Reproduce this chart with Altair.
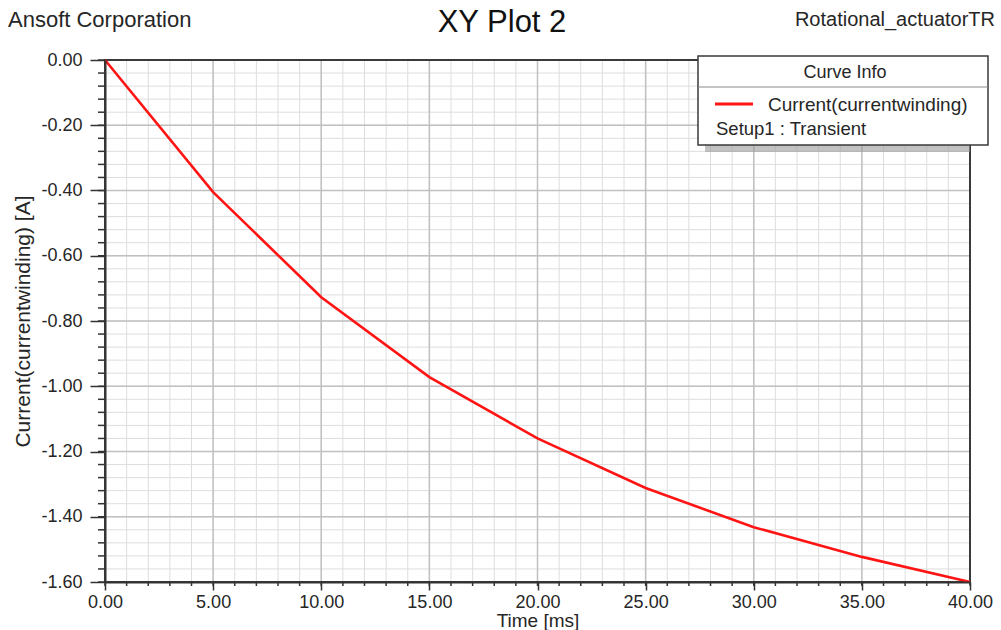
import altair as alt
import pandas as pd

# ---- data ----
time_ms = [0, 5, 10, 15, 20, 25, 30, 35, 40]
current_a = [0.0, -0.405, -0.727, -0.972, -1.160, -1.312, -1.432, -1.523, -1.600]

x_major = [0, 5, 10, 15, 20, 25, 30, 35, 40]
x_minor = list(range(0, 41))
y_major = [0.0, -0.2, -0.4, -0.6, -0.8, -1.0, -1.2, -1.4, -1.6]
y_minor = [round(-0.04 * i, 2) for i in range(41)]

title_text = "XY Plot 2"
left_header = "Ansoft Corporation"
right_header = "Rotational_actuatorTR"
legend_title = "Curve Info"
series_name = "Current(currentwinding)"
setup_name = "Setup1 : Transient"

FONT = "Liberation Sans"
TXT = "#262626"
W, H = 865, 522

xs = alt.Scale(domain=[0, 40], nice=False, zero=False)
ys = alt.Scale(domain=[-1.6, 0], nice=False, zero=False)

curve = pd.DataFrame({"t": time_ms, "i": current_a})

label_expr = "(datum.value < -0.0001 ? '-' : '') + format(abs(datum.value), '.2f')"

x_axis = alt.Axis(values=x_major, labelExpr=label_expr, labelFont=FONT, labelFontSize=18,
                  labelColor=TXT, labelPadding=3, labelFlush=False, labelOverlap=False,
                  tickSize=8, tickColor="#333333", tickWidth=1.5,
                  domainColor="#333333", domainWidth=2, grid=False,
                  title="Time [ms]", titleFont=FONT, titleFontSize=19, titleFontWeight="normal",
                  titleColor=TXT, titlePadding=0, zindex=1)
y_axis = alt.Axis(values=y_major, labelExpr=label_expr, labelFont=FONT, labelFontSize=18,
                  labelColor=TXT, labelPadding=8, labelFlush=False, labelOverlap=False,
                  tickSize=15, tickColor="#333333", tickWidth=1.5,
                  domainColor="#333333", domainWidth=2, grid=False,
                  title="Current(currentwinding) [A]", titleFont=FONT, titleFontSize=21,
                  titleFontWeight="normal", titleColor=TXT, titlePadding=7, zindex=1)

# grid lines
vminor = alt.Chart(pd.DataFrame({"t": x_minor})).mark_rule(color="#dedede", strokeWidth=1).encode(
    x=alt.X("t:Q", scale=xs, axis=x_axis))
hminor = alt.Chart(pd.DataFrame({"i": y_minor})).mark_rule(color="#dedede", strokeWidth=1).encode(
    y=alt.Y("i:Q", scale=ys, axis=y_axis))
vmajor = alt.Chart(pd.DataFrame({"t": x_major})).mark_rule(color="#c0c0c0", strokeWidth=1.5).encode(
    x=alt.X("t:Q", scale=xs, axis=x_axis))
hmajor = alt.Chart(pd.DataFrame({"i": y_major})).mark_rule(color="#c0c0c0", strokeWidth=1.5).encode(
    y=alt.Y("i:Q", scale=ys, axis=y_axis))

# minor ticks outside
xticks = alt.Chart(pd.DataFrame({"t": x_minor})).mark_rule(color="#333333", strokeWidth=1.5).encode(
    x=alt.X("t:Q", scale=xs, axis=x_axis), y=alt.value(H), y2=alt.value(H + 4))
yticks = alt.Chart(pd.DataFrame({"i": y_minor})).mark_rule(color="#333333", strokeWidth=1.5).encode(
    y=alt.Y("i:Q", scale=ys, axis=y_axis), x=alt.value(-7), x2=alt.value(0))

one = pd.DataFrame({"k": [0]})
frame = alt.Chart(one).mark_rect(fillOpacity=0, stroke="#3a3a3a", strokeWidth=2).encode(
    x=alt.value(0), x2=alt.value(W), y=alt.value(0), y2=alt.value(H))

line = alt.Chart(curve).mark_line(color="#ff1414", strokeWidth=2.6).encode(
    x=alt.X("t:Q", scale=xs, axis=x_axis),
    y=alt.Y("i:Q", scale=ys, axis=y_axis))

# legend box ("Curve Info")
shadow = alt.Chart(one).mark_rect(color="#9a9a9a", opacity=0.6).encode(
    x=alt.value(600), x2=alt.value(W), y=alt.value(4), y2=alt.value(92))
box = alt.Chart(one).mark_rect(fill="white", stroke="#3a3a3a", strokeWidth=1.5).encode(
    x=alt.value(593), x2=alt.value(883), y=alt.value(-4), y2=alt.value(85))
sep = alt.Chart(one).mark_rule(color="#8a8a8a", strokeWidth=1).encode(
    x=alt.value(593), x2=alt.value(883), y=alt.value(27))
leg_line = alt.Chart(one).mark_rule(color="#ff1414", strokeWidth=3).encode(
    x=alt.value(610), x2=alt.value(648), y=alt.value(44))
leg_title = alt.Chart(one).mark_text(font=FONT, fontSize=18, color=TXT, align="center", baseline="middle").encode(
    x=alt.value(740), y=alt.value(13), text=alt.value(legend_title))
leg_series = alt.Chart(one).mark_text(font=FONT, fontSize=19, color=TXT, align="left", baseline="middle").encode(
    x=alt.value(663), y=alt.value(45), text=alt.value(series_name))
leg_setup = alt.Chart(one).mark_text(font=FONT, fontSize=18.5, color=TXT, align="left", baseline="middle").encode(
    x=alt.value(611), y=alt.value(69), text=alt.value(setup_name))

# headers
t_main = alt.Chart(one).mark_text(font=FONT, fontSize=31, color="#111111", align="center", baseline="middle").encode(
    x=alt.value(397), y=alt.value(-37), text=alt.value(title_text))
t_left = alt.Chart(one).mark_text(font=FONT, fontSize=22, color=TXT, align="left", baseline="middle").encode(
    x=alt.value(-97), y=alt.value(-40), text=alt.value(left_header))
t_right = alt.Chart(one).mark_text(font=FONT, fontSize=20, color=TXT, align="right", baseline="middle").encode(
    x=alt.value(890), y=alt.value(-40), text=alt.value(right_header))

chart = alt.layer(
    vminor, hminor, vmajor, hmajor, xticks, yticks, frame, line,
    shadow, box, sep, leg_line, leg_title, leg_series, leg_setup,
    t_main, t_left, t_right
).properties(
    width=W, height=H,
    autosize=alt.AutoSizeParams(type="none"),
    padding={"left": 105, "top": 60, "right": 31, "bottom": 48},
    background="white",
).configure_view(stroke=None)

chart.save("out.html", embed_options={"renderer": "svg", "actions": False})
